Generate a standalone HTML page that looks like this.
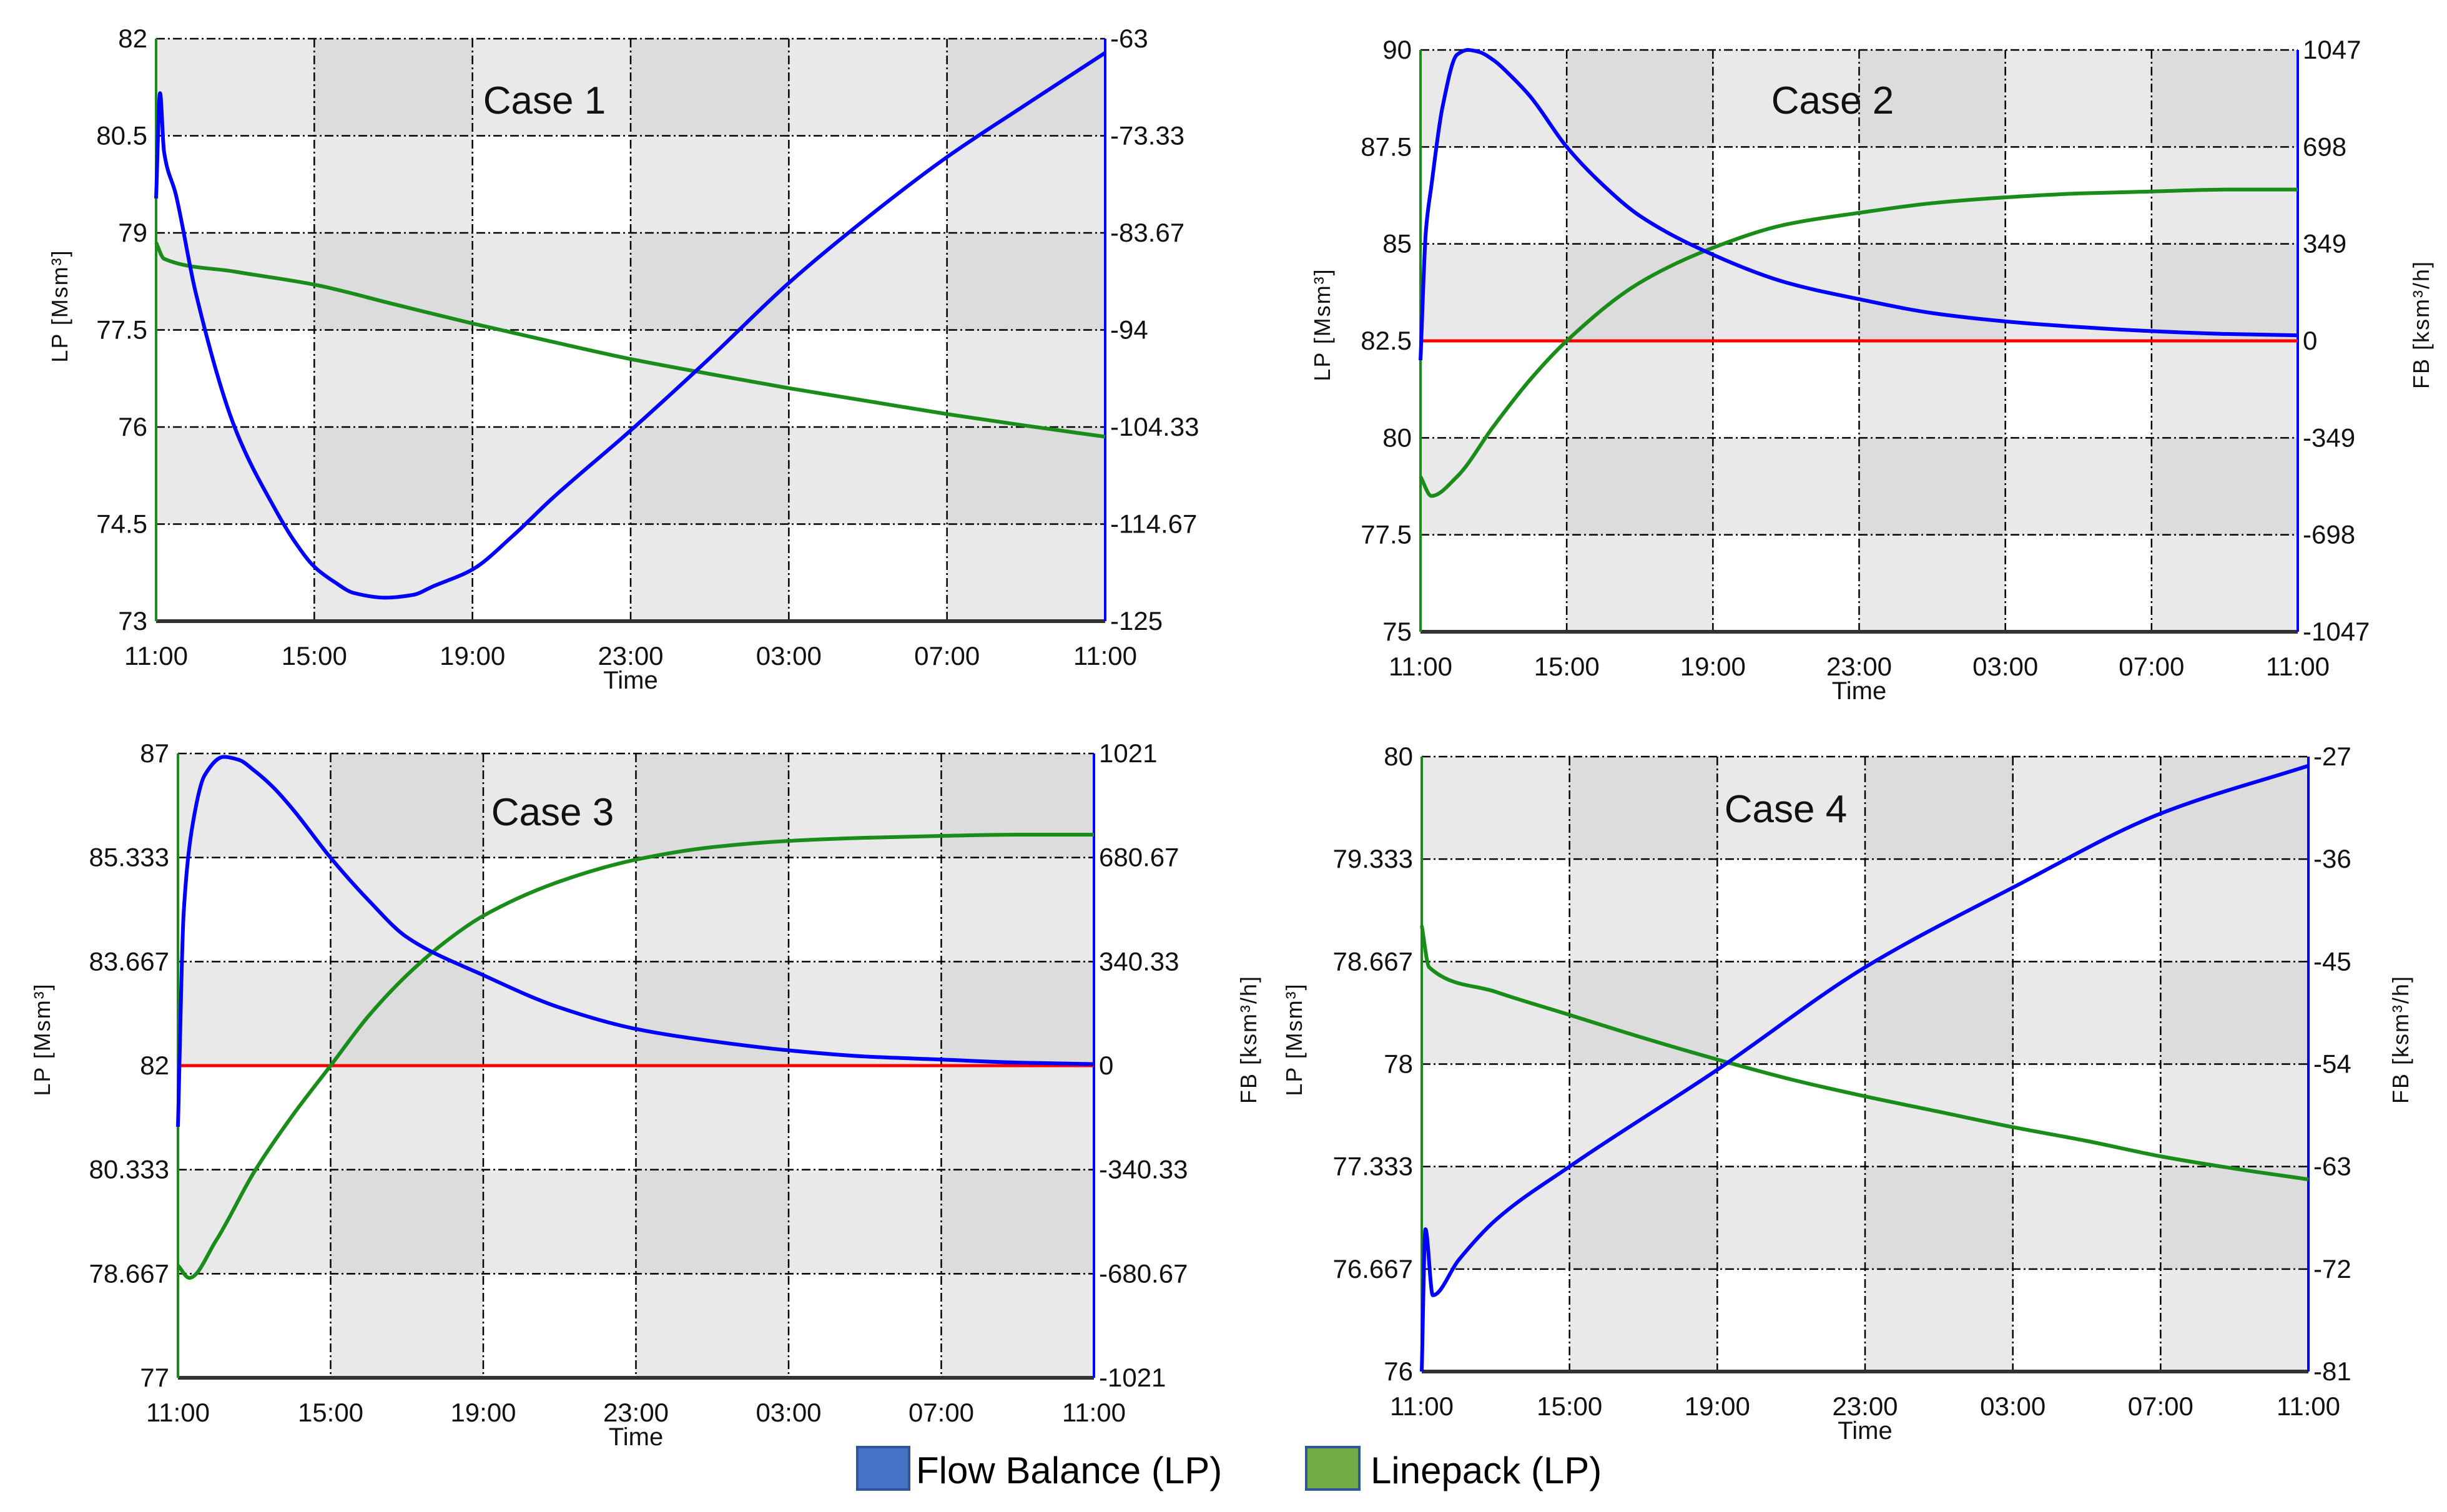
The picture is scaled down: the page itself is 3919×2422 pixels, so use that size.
<!DOCTYPE html>
<html><head><meta charset="utf-8"><style>
html,body{margin:0;padding:0;background:#fff;}
svg{display:block;font-family:"Liberation Sans",sans-serif;}
</style></head><body>
<svg id="chart" width="3919" height="2422" viewBox="0 0 3919 2422" xmlns="http://www.w3.org/2000/svg">
<g id="legend">
  <rect x="1373" y="2318" width="83" height="68" fill="#4472c4" stroke="#2f5597" stroke-width="4"/>
  <text x="1467" y="2376" font-size="60" fill="#000">Flow Balance (LP)</text>
  <rect x="2092" y="2318" width="85" height="68" fill="#70ad47" stroke="#2f5597" stroke-width="4"/>
  <text x="2195" y="2376" font-size="60" fill="#000">Linepack (LP)</text>
</g>
</svg>
<script>
// ---- data (hours since 11:00) ----
const xTickLabels = ["11:00","15:00","19:00","23:00","03:00","07:00","11:00"];

const c1LpTicks = ["82","80.5","79","77.5","76","74.5","73"];
const c1FbTicks = ["-63","-73.33","-83.67","-94","-104.33","-114.67","-125"];
const c1FbT = [0,0.1,0.2,0.5,1,2,3,3.5,4,4.5,5,5.8,6.5,7,8,9,10,12,14,16,18,20,22,24];
const c1FbV = [-80,-68.8,-75,-79.6,-90,-104.5,-113,-116.5,-119.2,-120.8,-122,-122.5,-122.2,-121.3,-119.5,-116,-112,-104.7,-97,-89,-82,-75.6,-70,-64.5];
const c1LpT = [0,0.2,2,4,6,8,10,12,14,16,18,20,22,24];
const c1LpV = [78.85,78.6,78.4,78.2,77.9,77.6,77.32,77.05,76.82,76.6,76.4,76.2,76.02,75.85];

const c2LpTicks = ["90","87.5","85","82.5","80","77.5","75"];
const c2FbTicks = ["1047","698","349","0","-349","-698","-1047"];
const c2FbT = [0,0.15,0.3,0.6,1,1.3,1.6,2,2.5,3,4,5,6,8,10,12,14,16,18,20,22,24];
const c2FbV = [-70,400,560,840,1030,1047,1040,1010,950,880,698,560,450,310,210,150,100,70,50,35,25,20];
const c2LpT = [0,0.3,1,2,3,4,6,8,10,12,14,16,18,20,22,24];
const c2LpV = [79,78.5,79,80.3,81.5,82.5,84,84.9,85.5,85.8,86.05,86.2,86.3,86.35,86.4,86.4];

const c3LpTicks = ["87","85.333","83.667","82","80.333","78.667","77"];
const c3FbTicks = ["1021","680.67","340.33","0","-340.33","-680.67","-1021"];
const c3FbT = [0,0.15,0.4,0.7,1.2,1.6,2,2.5,3,4,5,6,8,10,12,14,16,18,20,22,24];
const c3FbV = [-200,500,800,950,1010,1000,965,910,840,680,540,420,296,190,120,80,50,30,20,10,5];
const c3LpT = [0,0.3,1,2,3,4,5,6,7,8,10,12,14,16,18,20,22,24];
const c3LpV = [78.8,78.6,79.2,80.3,81.2,82.0,82.8,83.45,83.98,84.4,84.95,85.3,85.5,85.6,85.65,85.68,85.7,85.7];

const c4LpTicks = ["80","79.333","78.667","78","77.333","76.667","76"];
const c4FbTicks = ["-27","-36","-45","-54","-63","-72","-81"];
const c4FbT = [0,0.1,0.3,1,2,4,8,12,16,20,24];
const c4FbV = [-81,-68.5,-74.3,-71.2,-67.7,-63,-54.5,-45.5,-38.5,-32,-27.8];
const c4LpT = [0,0.2,2,4,6,8,10,12,14,16,18,20,22,24];
const c4LpV = [78.9,78.63,78.47,78.32,78.17,78.03,77.9,77.79,77.69,77.59,77.5,77.4,77.32,77.25];

const svg = document.getElementById('chart');
const NS = 'http://www.w3.org/2000/svg';
function mk(tag, attrs, parent){
  const e = document.createElementNS(NS, tag);
  for (const k in attrs) e.setAttribute(k, attrs[k]);
  parent.appendChild(e);
  return e;
}
function smoothPath(pts){
  const n = pts.length;
  const dx = [], s = [];
  for (let i=0;i<n-1;i++){ dx[i]=pts[i+1][0]-pts[i][0]; s[i]=(pts[i+1][1]-pts[i][1])/dx[i]; }
  const m = [];
  m[0]=s[0]; m[n-1]=s[n-2];
  for (let i=1;i<n-1;i++){
    if (s[i-1]*s[i] <= 0) m[i]=0;
    else { const w1=2*dx[i]+dx[i-1], w2=dx[i]+2*dx[i-1]; m[i]=(w1+w2)/(w1/s[i-1]+w2/s[i]); }
  }
  let d = 'M' + pts[0][0] + ',' + pts[0][1];
  for (let i=0;i<n-1;i++){
    const h = dx[i]/3;
    d += ' C' + (pts[i][0]+h) + ',' + (pts[i][1]+m[i]*h) + ' ' + (pts[i+1][0]-h) + ',' + (pts[i+1][1]-m[i+1]*h) + ' ' + pts[i+1][0] + ',' + pts[i+1][1];
  }
  return d;
}

function panel(cfg){
  const g = mk('g', {}, svg);
  
  
  const {x0,x1,y0,y1} = cfg;
  const W = x1-x0, H = y1-y0;
  const xs = t => x0 + t/24*W;
  const yLp = v => y1 - (v-cfg.lpMin)/(cfg.lpMax-cfg.lpMin)*H;
  const yFb = v => y1 - (v-cfg.fbMin)/(cfg.fbMax-cfg.fbMin)*H;
  for (let r=0;r<6;r++) for (let c=0;c<6;c++){
    let fill;
    if (r%2===0) fill = (c%2===0) ? '#e9e9e9' : '#dcdcdc';
    else fill = (c%2===0) ? '#ffffff' : '#e9e9e9';
    const cell = mk('rect', {x:x0+c*W/6, y:y0+r*H/6, width:W/6+0.5, height:H/6+0.5, fill:fill}, g);
    
    
  }
  for (let i=0;i<=6;i++){
    const gx = mk('line', {x1:x0+i*W/6, x2:x0+i*W/6, y1:y0, y2:y1, stroke:'#000', 'stroke-width':2.5, 'stroke-dasharray':'14,5,3,5'}, g);
    
    
    const gy = mk('line', {x1:x0, x2:x1, y1:y0+i*H/6, y2:y0+i*H/6, stroke:'#000', 'stroke-width':2.5, 'stroke-dasharray':'14,5,3,5'}, g);
    
    
  }
  const ax = mk('line', {x1:x0, x2:x1, y1:y1, y2:y1, stroke:'#333', 'stroke-width':6}, g);
  
  
  const al = mk('line', {x1:x0, x2:x0, y1:y0, y2:y1, stroke:'#1a8c1a', 'stroke-width':4}, g);
  
  
  const ar = mk('line', {x1:x1, x2:x1, y1:y0, y2:y1, stroke:'#0000ff', 'stroke-width':4}, g);
  
  
  for (let i=0;i<7;i++){
    const tl = mk('text', {x:x0-14, y:y0+i*H/6+14, 'font-size':42, 'text-anchor':'end', fill:'#111'}, g);
    tl.textContent = cfg.lpTicks[i];
    
    
    const tr = mk('text', {x:x1+8, y:y0+i*H/6+14, 'font-size':42, 'text-anchor':'start', fill:'#111'}, g);
    tr.textContent = cfg.fbTicks[i];
    
    
    const tx = mk('text', {x:x0+i*W/6, y:y1+70, 'font-size':42, 'text-anchor':'middle', fill:'#111'}, g);
    tx.textContent = xTickLabels[i];
    
    
  }
  const xt = mk('text', {x:x0+W/2, y:y1+108, 'font-size':40, 'text-anchor':'middle', fill:'#111'}, g);
  xt.textContent = 'Time';
  
  
  cfg.titles.forEach(tt => {
    const t = mk('text', {x:tt[0], y:cfg.titleY, 'font-size':36, 'text-anchor':'middle', fill:'#111', 'letter-spacing':2, transform:'rotate(-90 '+tt[0]+' '+cfg.titleY+')'}, g);
    t.textContent = tt[1];
    
    
  });
  const cl = mk('text', {x:cfg.caseX, y:cfg.caseY, 'font-size':62, 'text-anchor':'middle', fill:'#111'}, g);
  cl.textContent = cfg.caseLabel;
  
  
  if (cfg.zero){
    const zl = mk('line', {x1:x0, x2:x1, y1:yFb(0), y2:yFb(0), stroke:'#ff0000', 'stroke-width':5}, g);
    
    
  }
  const lp = mk('path', {d:smoothPath(cfg.lpT.map((t,i)=>[xs(t), yLp(cfg.lpV[i])])), fill:'none', stroke:'#1a8c1a', 'stroke-width':6}, g);
  
  
  const fb = mk('path', {d:smoothPath(cfg.fbT.map((t,i)=>[xs(t), yFb(cfg.fbV[i])])), fill:'none', stroke:'#0000ff', 'stroke-width':6}, g);
  
  
}

const LPT = 'LP [Msm³]', FBT = 'FB [ksm³/h]';
panel({name:'case-1-panel', x0:250, x1:1770, y0:62, y1:995, lpMin:73, lpMax:82, fbMin:-125, fbMax:-63,
  lpTicks:c1LpTicks, fbTicks:c1FbTicks, lpT:c1LpT, lpV:c1LpV, fbT:c1FbT, fbV:c1FbV, zero:false,
  caseLabel:'Case 1', caseX:872, caseY:182, titleY:490, titles:[[108,LPT,'left-axis-title']]});
panel({name:'case-2-panel', x0:2275, x1:3680, y0:80, y1:1012, lpMin:75, lpMax:90, fbMin:-1047, fbMax:1047,
  lpTicks:c2LpTicks, fbTicks:c2FbTicks, lpT:c2LpT, lpV:c2LpV, fbT:c2FbT, fbV:c2FbV, zero:true,
  caseLabel:'Case 2', caseX:2935, caseY:182, titleY:520, titles:[[2130,LPT,'left-axis-title'],[3890,FBT,'right-axis-title']]});
panel({name:'case-3-panel', x0:285, x1:1752, y0:1207, y1:2207, lpMin:77, lpMax:87, fbMin:-1021, fbMax:1021,
  lpTicks:c3LpTicks, fbTicks:c3FbTicks, lpT:c3LpT, lpV:c3LpV, fbT:c3FbT, fbV:c3FbV, zero:true,
  caseLabel:'Case 3', caseX:885, caseY:1322, titleY:1665, titles:[[80,LPT,'left-axis-title']]});
panel({name:'case-4-panel', x0:2277, x1:3697, y0:1212, y1:2197, lpMin:76, lpMax:80, fbMin:-81, fbMax:-27,
  lpTicks:c4LpTicks, fbTicks:c4FbTicks, lpT:c4LpT, lpV:c4LpV, fbT:c4FbT, fbV:c4FbV, zero:false,
  caseLabel:'Case 4', caseX:2860, caseY:1317, titleY:1665, titles:[[2012,FBT,'left-fb-axis-title'],[2085,LPT,'left-axis-title'],[3857,FBT,'right-axis-title']]});
svg.appendChild(document.getElementById('legend'));
</script>
</body></html>
